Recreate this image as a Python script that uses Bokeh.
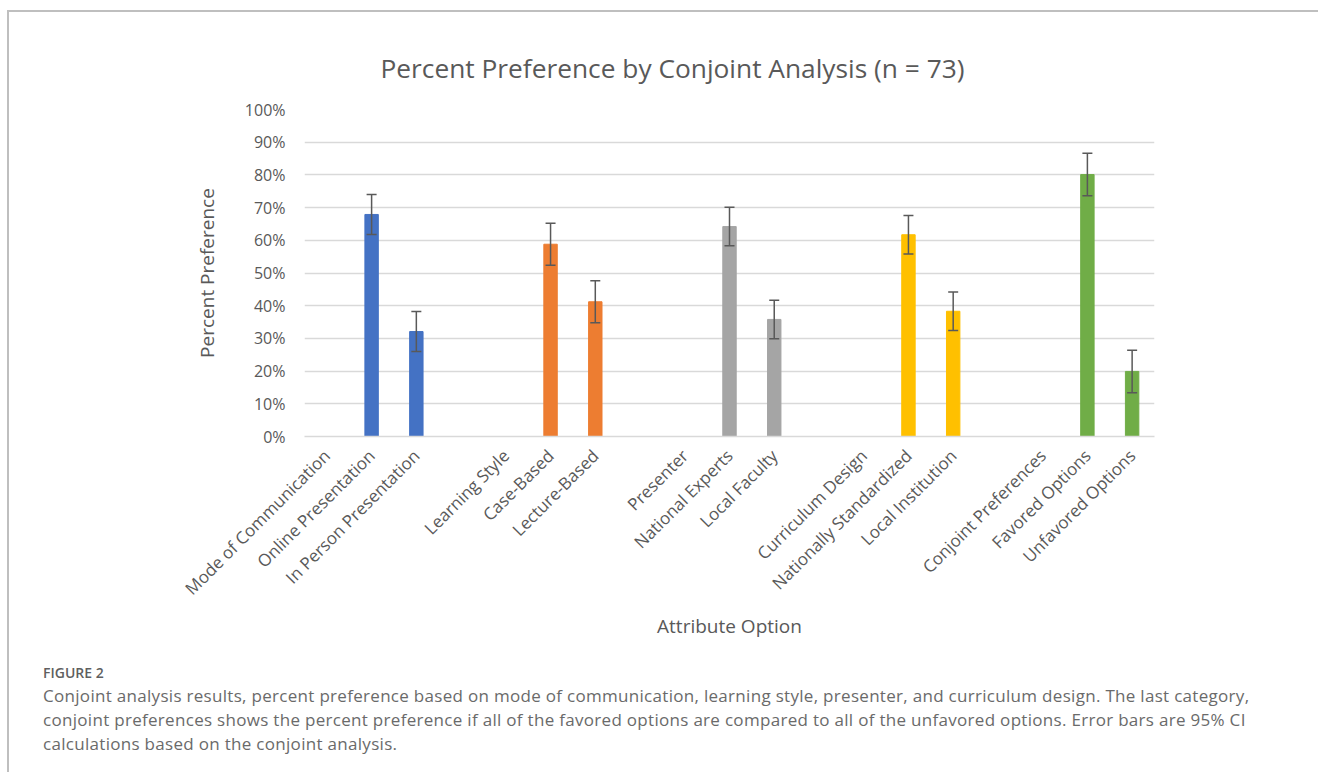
import math
from bokeh.plotting import figure
from bokeh.models import ColumnDataSource, FactorRange, Range1d, FixedTicker, Whisker, TeeHead, Div
from bokeh.layouts import column
from bokeh.embed import file_html
from bokeh.resources import INLINE

# ---------------- data ----------------
title_text = "Percent Preference by Conjoint Analysis (n = 73)"
x_title = "Attribute Option"
y_title = "Percent Preference"

# axis categories in order; whitespace entries are the empty slots between attribute groups
categories = ["Mode of Communication", "Online Presentation", "In Person Presentation", " ",
              "Learning Style", "Case-Based", "Lecture-Based", "  ",
              "Presenter", "National Experts", "Local Faculty", "   ",
              "Curriculum Design", "Nationally Standardized", "Local Institution", "    ",
              "Conjoint Preferences", "Favored Options", "Unfavored Options"]

options = ["Online Presentation", "In Person Presentation",
           "Case-Based", "Lecture-Based",
           "National Experts", "Local Faculty",
           "Nationally Standardized", "Local Institution",
           "Favored Options", "Unfavored Options"]
attribute = ["Mode of Communication", "Mode of Communication",
             "Learning Style", "Learning Style",
             "Presenter", "Presenter",
             "Curriculum Design", "Curriculum Design",
             "Conjoint Preferences", "Conjoint Preferences"]
percent = [67.9, 32.1, 58.8, 41.2, 64.2, 35.8, 61.7, 38.3, 80.1, 19.9]
ci_half = [6.1, 6.1, 6.4, 6.4, 5.9, 5.9, 5.9, 5.9, 6.5, 6.5]

y_ticks = [0, 10, 20, 30, 40, 50, 60, 70, 80, 90, 100]
y_tick_labels = ["0%", "10%", "20%", "30%", "40%", "50%", "60%", "70%", "80%", "90%", "100%"]

caption_label = "FIGURE 2"
caption_lines = [
    "Conjoint analysis results, percent preference based on mode of communication, learning style, presenter, and curriculum design. The last category,",
    "conjoint preferences shows the percent preference if all of the favored options are compared to all of the unfavored options. Error bars are 95% CI",
    "calculations based on the conjoint analysis.",
]

# ---------------- styles ----------------
palette = {"Mode of Communication": "#4472C4", "Learning Style": "#ED7D31", "Presenter": "#A5A5A5",
           "Curriculum Design": "#FFC000", "Conjoint Preferences": "#70AD47"}
FONT = "Open Sans"
TXT = "#595959"

src = ColumnDataSource(dict(
    option=options,
    percent=percent,
    upper=[v + e for v, e in zip(percent, ci_half)],
    lower=[v - e for v, e in zip(percent, ci_half)],
    color=[palette[a] for a in attribute],
))

W, H = 1309, 640
p = figure(x_range=FactorRange(*categories), y_range=Range1d(0, 100),
           width=W, height=H, output_backend="svg", toolbar_location=None,
           min_border_left=295, min_border_right=164, min_border_top=97, min_border_bottom=216)
p.outline_line_color = None
p.background_fill_color = "white"
p.border_fill_color = "white"

# title
p.title.text = title_text
p.title.align = "left"
p.title.offset = 76
p.title.standoff = 48
p.title.text_font = FONT
p.title.text_font_size = "26.3px"
p.title.text_font_style = "normal"
p.title.text_color = TXT

p.vbar(x="option", top="percent", width=0.3, source=src,
       fill_color="color", line_color="color")

wk = Whisker(source=src, base="option", upper="upper", lower="lower",
             line_color="#595959", line_width=1.5, level="annotation",
             upper_head=TeeHead(size=10, line_color="#595959", line_width=1.5),
             lower_head=TeeHead(size=10, line_color="#595959", line_width=1.5))
p.add_layout(wk)

# grid
p.xgrid.grid_line_color = None
p.ygrid.grid_line_color = "#d9d9d9"
p.ygrid.grid_line_width = 1.5
p.ygrid.ticker = FixedTicker(ticks=y_ticks)

# y axis
p.yaxis.ticker = FixedTicker(ticks=y_ticks)
p.yaxis.major_label_overrides = {t: l for t, l in zip(y_ticks, y_tick_labels)}
p.yaxis.axis_line_color = None
p.yaxis.major_tick_line_color = None
p.yaxis.minor_tick_line_color = None
p.yaxis.major_tick_out = 0
p.yaxis.major_label_standoff = 19
p.yaxis.major_label_text_font = FONT
p.yaxis.major_label_text_font_size = "16px"
p.yaxis.major_label_text_color = TXT
p.yaxis.axis_label = y_title
p.yaxis.axis_label_standoff = 22
p.yaxis.axis_label_text_font = FONT
p.yaxis.axis_label_text_font_size = "19px"
p.yaxis.axis_label_text_font_style = "normal"
p.yaxis.axis_label_text_color = TXT

# x axis
p.xaxis.axis_line_color = "#d9d9d9"
p.xaxis.axis_line_width = 1.5
p.xaxis.major_tick_line_color = None
p.xaxis.minor_tick_line_color = None
p.xaxis.major_tick_out = 0
p.xaxis.major_label_orientation = math.pi / 4
p.xaxis.major_label_standoff = 16
p.xaxis.major_label_text_font = FONT
p.xaxis.major_label_text_font_size = "17px"
p.xaxis.major_label_text_color = TXT
p.xaxis.axis_label = x_title
p.xaxis.axis_label_standoff = 2
p.xaxis.axis_label_text_font = FONT
p.xaxis.axis_label_text_font_size = "19px"
p.xaxis.axis_label_text_font_style = "normal"
p.xaxis.axis_label_text_color = TXT

caption_html = (
    '<div style="margin:0; padding:7px 0 0 29px; font-family:\'Open Sans\', sans-serif; white-space:nowrap;">'
    f'<div style="font-size:14px; font-weight:600; color:#5f5f5f; line-height:18px;">{caption_label}</div>'
    '<div style="font-size:17px; letter-spacing:0.3px; color:#6a6a6a; line-height:24px; margin-top:2px;">'
    + "<br>".join(caption_lines) +
    '</div></div>'
)
cap = Div(text=caption_html, width=1290, height=110)

layout = column(p, cap, styles={"border-top": "2px solid #bfbfbf", "border-left": "2px solid #bfbfbf",
                                 "margin-top": "10px", "margin-left": "7px"})

open("out.html", "w").write(file_html(layout, INLINE))
